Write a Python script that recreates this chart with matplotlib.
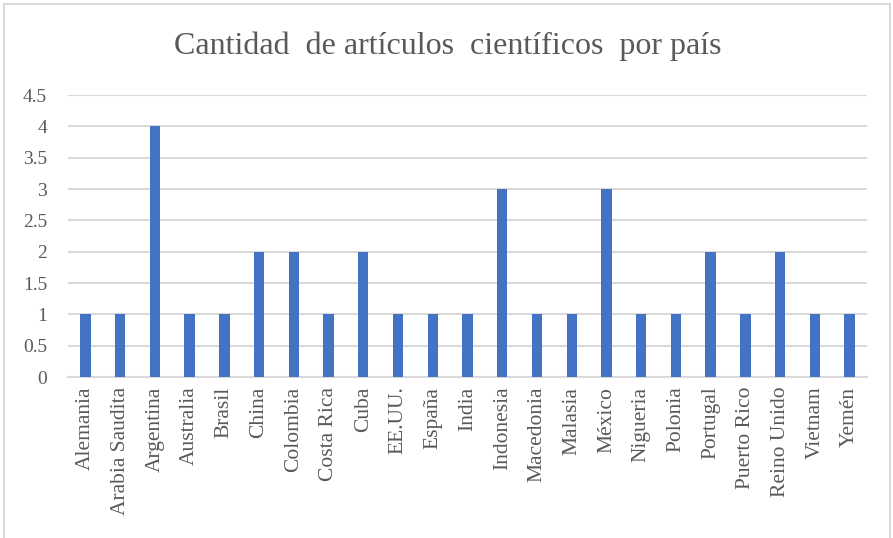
import matplotlib
matplotlib.use("Agg")
import matplotlib.pyplot as plt
from matplotlib.patches import Rectangle

paises = ["Alemania", "Arabia Saudita", "Argentina", "Australia", "Brasil", "China",
          "Colombia", "Costa Rica", "Cuba", "EE.UU.", "España", "India", "Indonesia",
          "Macedonia", "Malasia", "México", "Nigueria", "Polonia", "Portugal",
          "Puerto Rico", "Reino Unido", "Vietnam", "Yemén"]
articulos = [1, 1, 4, 1, 1, 2, 2, 1, 2, 1, 1, 1, 3, 1, 1, 3, 1, 1, 2, 1, 2, 1, 1]
yticks = [0, 0.5, 1, 1.5, 2, 2.5, 3, 3.5, 4, 4.5]

plt.rcParams['font.family'] = ['Liberation Serif', 'DejaVu Serif']

fig = plt.figure(figsize=(8.93, 5.38), dpi=100)
ax = fig.add_axes([68 / 893, 1 - 377 / 538, (867 - 68) / 893, (377 - 95) / 538])

# borde gris del grafico
fig.patches.append(Rectangle((4 / 893, -0.1), 886 / 893, 1.1 - 4 / 538,
                             transform=fig.transFigure, fill=False,
                             edgecolor="#d0d0d0", linewidth=1.2))

x = range(len(paises))
ax.bar(x, articulos, width=0.3, color="#4472C4", zorder=3)

ax.set_xlim(-0.5, len(paises) - 0.5)
ax.set_ylim(0, 4.5)
ax.set_yticks(yticks)
ax.set_yticklabels([f"{v:g}" for v in yticks], fontsize=14, color="#595959")
ax.set_xticks(list(x))
ax.set_xticklabels(paises, rotation=90, fontsize=15.5, color="#595959")
ax.tick_params(length=0, pad=7)
ax.tick_params(axis="y", pad=15)

ax.grid(axis="y", color="#d9d9d9", linewidth=1.5, zorder=0)
for s in ["top", "right", "left"]:
    ax.spines[s].set_visible(False)
ax.spines["bottom"].set_color("#d9d9d9")
ax.spines["bottom"].set_linewidth(1.5)

fig.text(448 / 893, 1 - 46 / 538, "Cantidad  de artículos  científicos  por país",
         ha="center", va="center", fontsize=23, color="#595959")

fig.savefig("out.png", dpi=100)
